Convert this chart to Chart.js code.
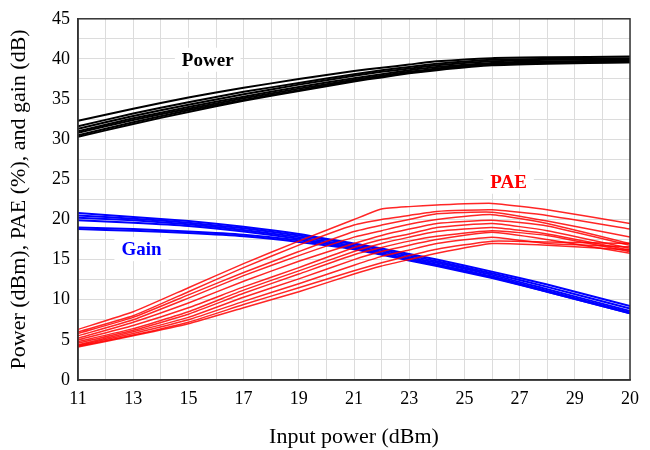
<!DOCTYPE html>
<html>
<head>
<meta charset="utf-8">
<script src="https://cdn.jsdelivr.net/npm/chart.js@4"></script>
<style>
  body { margin: 0; background: #fff; }
  #wrap { width: 650px; height: 450px; }
</style>
</head>
<body>
<div id="wrap"><canvas id="chart"></canvas></div>
<script>
// input power points shared by every curve
const inputPower = [11, 13, 15, 17, 19, 21, 22, 23, 24, 26, 28, 31];
const xTickLabels = ['11', '13', '15', '17', '19', '21', '23', '25', '27', '29', '20'];

const powerCurves = [
  [32.3, 33.8, 35.2, 36.4, 37.5, 38.5, 38.9, 39.3, 39.7, 40.1, 40.2, 40.3],
  [31.6, 33.2, 34.6, 35.9, 37.0, 38.1, 38.6, 39.0, 39.4, 39.9, 40.0, 40.1],
  [31.3, 32.9, 34.3, 35.6, 36.8, 37.9, 38.4, 38.8, 39.2, 39.7, 39.9, 40.0],
  [31.0, 32.6, 34.0, 35.3, 36.5, 37.6, 38.1, 38.6, 39.0, 39.5, 39.7, 39.8],
  [30.8, 32.4, 33.8, 35.1, 36.3, 37.4, 37.9, 38.4, 38.8, 39.4, 39.6, 39.7],
  [30.5, 32.1, 33.6, 34.9, 36.1, 37.3, 37.8, 38.3, 38.7, 39.3, 39.5, 39.6],
  [30.3, 31.9, 33.4, 34.8, 36.0, 37.2, 37.7, 38.2, 38.6, 39.2, 39.4, 39.6]
];

const gainCurves = [
  [20.8, 20.3, 19.8, 19.1, 18.2, 17.0, 16.4, 15.7, 15.0, 13.5, 11.9, 9.2],
  [20.5, 20.1, 19.6, 18.9, 18.0, 16.9, 16.2, 15.5, 14.8, 13.3, 11.6, 8.9],
  [20.2, 19.9, 19.4, 18.7, 17.8, 16.7, 16.0, 15.3, 14.6, 13.1, 11.3, 8.6],
  [19.9, 19.6, 19.2, 18.5, 17.6, 16.5, 15.8, 15.1, 14.4, 12.9, 11.1, 8.4],
  [19.0, 18.8, 18.5, 18.1, 17.4, 16.4, 15.7, 15.0, 14.3, 12.8, 11.0, 8.3],
  [18.8, 18.6, 18.3, 17.9, 17.2, 16.3, 15.6, 14.9, 14.2, 12.7, 11.0, 8.3]
];

const paeCurves = [
  [6.3, 8.5, 11.5, 14.5, 17.3, 20.0, 21.3, 21.6, 21.8, 22.0, 21.2, 19.5],
  [6.0, 8.0, 11.0, 14.0, 16.8, 19.3, 20.0, 20.5, 21.0, 21.2, 20.5, 18.8],
  [5.8, 7.8, 10.6, 13.4, 16.0, 18.5, 19.3, 20.0, 20.7, 20.9, 19.8, 17.8],
  [5.5, 7.5, 10.2, 13.0, 15.5, 17.8, 18.6, 19.4, 20.0, 20.6, 19.5, 17.0],
  [5.2, 7.2, 9.6, 12.3, 14.8, 17.0, 18.0, 18.8, 19.5, 19.9, 19.2, 16.8],
  [5.0, 6.8, 9.0, 11.6, 14.0, 16.5, 17.5, 18.2, 19.0, 19.5, 18.6, 16.4],
  [4.8, 6.4, 8.5, 11.2, 13.6, 16.0, 17.0, 17.8, 18.5, 19.0, 18.2, 16.2],
  [4.6, 6.2, 8.2, 10.8, 13.2, 15.6, 16.5, 17.3, 17.9, 18.6, 18.0, 16.0],
  [4.4, 6.0, 7.8, 10.3, 12.6, 15.0, 16.0, 16.8, 17.5, 18.4, 17.5, 15.8],
  [4.3, 5.8, 7.5, 9.8, 12.0, 14.3, 15.4, 16.2, 17.0, 17.8, 17.0, 16.6],
  [4.2, 5.6, 7.2, 9.4, 11.5, 13.6, 14.6, 15.5, 16.3, 17.3, 17.2, 17.0],
  [4.1, 5.5, 7.0, 9.0, 11.0, 13.2, 14.2, 15.0, 15.8, 17.0, 16.8, 16.2]
];

// curve group names and where they sit (x in dBm, y in axis units)
const groupNames = ['Power', 'Gain', 'PAE'];
const groupColors = ['#000000', '#0000ff', '#ff0000'];
const nameX = [15.7, 13.3, 26.6];
const nameY = [39.9, 16.3, 24.7];

function toPoints(vals) {
  return vals.map((v, i) => ({ x: inputPower[i], y: v }));
}

const datasets = [];
paeCurves.forEach(c => datasets.push({
  data: toPoints(c), borderColor: 'rgba(255,0,0,0.85)', borderWidth: 1.5
}));
gainCurves.forEach(c => datasets.push({
  data: toPoints(c), borderColor: '#0000ff', borderWidth: 2
}));
powerCurves.forEach(c => datasets.push({
  data: toPoints(c), borderColor: '#000000', borderWidth: 2
}));

const serif = '"Liberation Serif", "DejaVu Serif", serif';

// white-boxed curve names + frame around plot
const extras = {
  id: 'extras',
  afterDatasetsDraw(chart) {
    const { ctx, chartArea: a, scales } = chart;
    ctx.save();
    ctx.strokeStyle = '#333';
    ctx.lineWidth = 1.5;
    ctx.strokeRect(a.left, a.top, a.right - a.left, a.bottom - a.top);
    ctx.font = 'bold 19px ' + serif;
    ctx.textAlign = 'center';
    ctx.textBaseline = 'middle';
    groupNames.forEach((name, i) => {
      const px = scales.x.getPixelForValue(nameX[i]);
      const py = scales.y.getPixelForValue(nameY[i]);
      const w = ctx.measureText(name).width + 14;
      ctx.fillStyle = '#fff';
      ctx.fillRect(px - w / 2, py - 12, w, 24);
      ctx.fillStyle = groupColors[i];
      ctx.fillText(name, px, py + 1);
    });
    ctx.restore();
  }
};

new Chart(document.getElementById('chart'), {
  type: 'line',
  data: { datasets },
  options: {
    responsive: true,
    maintainAspectRatio: false,
    animation: false,
    layout: { padding: { top: 14, right: 20, left: 0, bottom: 0 } },
    elements: { point: { radius: 0 }, line: { tension: 0.15 } },
    plugins: { legend: { display: false }, tooltip: { enabled: false } },
    scales: {
      x: {
        type: 'linear',
        min: 11,
        max: 31,
        afterFit: s => { s.height = 70; },
        grid: { color: '#dcdcdc', drawTicks: false },
        border: { color: '#333', width: 1.5 },
        ticks: {
          stepSize: 1,
          autoSkip: false,
          maxRotation: 0,
          padding: 8,
          color: '#000',
          font: { family: serif, size: 18 },
          callback: v => ((v - 11) % 2 === 0 ? xTickLabels[(v - 11) / 2] : '')
        },
        title: {
          display: true,
          text: 'Input power (dBm)',
          color: '#000',
          font: { family: serif, size: 22 },
          padding: { top: 10, bottom: 0 }
        }
      },
      y: {
        min: 0,
        max: 45,
        afterFit: s => { s.width = 78; },
        grid: { color: '#dcdcdc', drawTicks: false },
        border: { color: '#333', width: 1.5 },
        ticks: {
          stepSize: 2.5,
          autoSkip: false,
          padding: 8,
          color: '#000',
          font: { family: serif, size: 18 },
          callback: v => (v % 5 === 0 ? v : '')
        },
        title: {
          display: true,
          text: 'Power (dBm), PAE (%), and gain (dB)',
          color: '#000',
          font: { family: serif, size: 22 },
          padding: { top: 6, bottom: 4 }
        }
      }
    }
  },
  plugins: [extras]
});
</script>
</body>
</html>
